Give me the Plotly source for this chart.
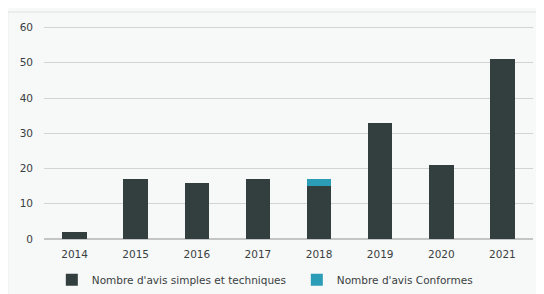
import plotly.graph_objects as go

years = ["2014", "2015", "2016", "2017", "2018", "2019", "2020", "2021"]
simples = [2, 17, 16, 17, 15, 33, 21, 51]
conformes = [0, 0, 0, 0, 2, 0, 0, 0]
y_ticks = [0, 10, 20, 30, 40, 50, 60]

fig = go.Figure()
fig.add_trace(go.Bar(x=years, y=simples, name="Nombre d'avis simples et techniques",
                     marker=dict(color="#333f3e", line=dict(width=0))))
fig.add_trace(go.Bar(x=years, y=conformes, name="Nombre d'avis Conformes",
                     marker=dict(color="#2b9db6", line=dict(width=0))))

fam = "DejaVu Sans, sans-serif"
xfont = dict(family=fam, size=10.5, color="#3a3f3f")
yfont = dict(family=fam, size=10.5, color="#3a3f3f")
fig.update_layout(
    width=544, height=294,
    barmode="stack", bargap=0.6,
    margin=dict(l=36, r=19, t=16, b=63, autoexpand=False),
    paper_bgcolor="#f7f8f8", plot_bgcolor="#f7f8f8",
    font=dict(family=fam, size=9, color="#3a3f3f"),
    showlegend=True,
    legend=dict(orientation="h", x=0.016, xanchor="left", y=-0.19, yanchor="middle",
                traceorder="normal", entrywidth=200,
                font=dict(family=fam, size=10.5, color="#3a3f3f"),
                bgcolor="rgba(0,0,0,0)", itemwidth=30),
    xaxis=dict(showgrid=False, showline=False, ticks="", tickfont=xfont, automargin=False,
               ticklabelstandoff=7),
    yaxis=dict(range=[0, 61], tickvals=y_ticks, showgrid=True, gridcolor="#d2d4d4",
               gridwidth=1, zeroline=True, zerolinecolor="#c4c6c6", showline=False,
               ticks="", tickfont=yfont, ticklabelstandoff=10, automargin=False),
)
fig.add_shape(type="line", xref="paper", yref="paper", x0=-0.075, x1=1.0225, y0=1.056, y1=1.056,
              line=dict(color="#dfe1e1", width=1))
fig.add_shape(type="line", xref="paper", yref="paper", x0=-0.074, x1=-0.074, y0=1.056, y1=-0.3,
              line=dict(color="#e6e8e8", width=1))
fig.write_html("out.html")
